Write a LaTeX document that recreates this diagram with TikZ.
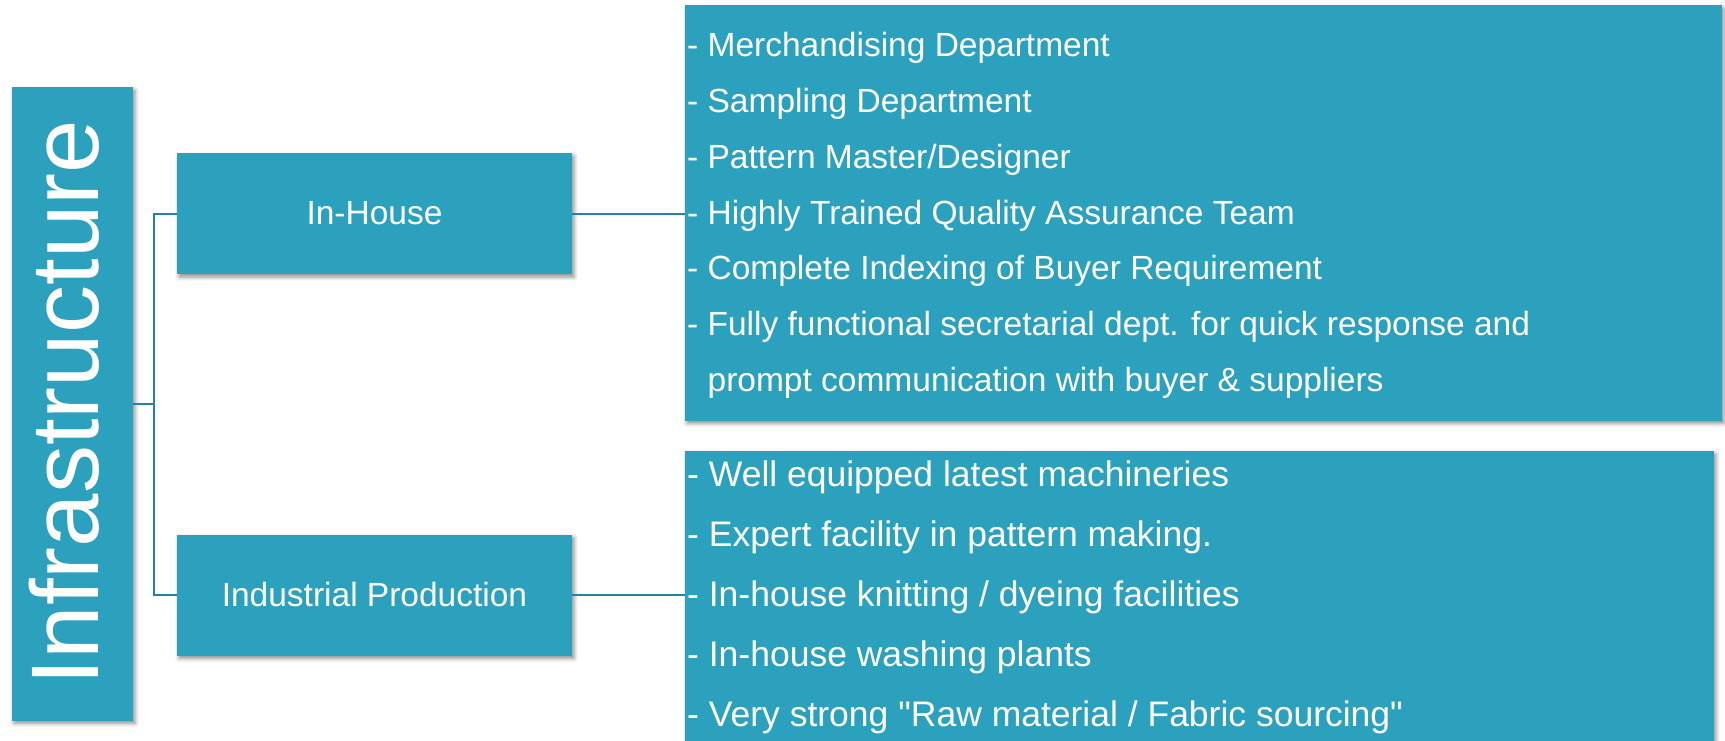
\documentclass[tikz,border=0pt]{standalone}
\usepackage{fontspec}
\setmainfont{Liberation Sans}
\newfontfamily\plainsans{Liberation Sans}
\usetikzlibrary{shadows.blur}
\definecolor{boxblue}{HTML}{2CA1BE}
\definecolor{connblue}{HTML}{2383A0}
\begin{document}
\begin{tikzpicture}[x=1pt,y=-1pt,
  box/.style={fill=boxblue, draw=none, inner sep=0pt, text=white,
    blur shadow={shadow xshift=2pt, shadow yshift=-3pt, shadow blur radius=4pt, shadow opacity=45}},
  lbl/.style={font=\plainsans\fontsize{33.5}{40}\selectfont},
  conn/.style={draw=connblue, line width=2pt},
  item/.style={anchor=base west, inner sep=0pt, text=white, font=\plainsans\fontsize{33.5}{40}\selectfont},
  bigitem/.style={item, font=\plainsans\fontsize{35.5}{42}\selectfont}]
\useasboundingbox (0,0) rectangle (1725,740);

% boxes
\node[box, minimum width=121pt, minimum height=633.5pt] (infra) at (72.5,403.75) {};
\node[rotate=90, anchor=base, text=white, inner sep=0pt, font=\plainsans\fontsize{96}{96}\selectfont] (infratext) at (98,403) {Infrastructure};

\node[box, lbl, minimum width=395pt, minimum height=121pt] (inhouse) at (374.5,213.5) {In-House};
\node[box, lbl, minimum width=395pt, minimum height=121pt] (indus) at (374.5,595) {Industrial Production};

\node[box, minimum width=1037pt, minimum height=415.5pt] (topR) at (1203.5,212.75) {};
\node[box, minimum width=1029pt, minimum height=320pt] (botR) at (1199.5,611) {};

% connectors
\coordinate (j) at (154.2,403.75);
\draw[conn] (infra.east) -- (j);
\draw[conn] (inhouse.west) -| (j) |- (indus.west);
\draw[conn] (inhouse.east) -- (inhouse.east -| topR.west);
\draw[conn] (indus.east) -- (indus.east -| botR.west);

% top list
\node[item] (t1) at (687,56.7) {- Merchandising Department};
\node[item] (t2) at (687,112.5) {- Sampling Department};
\node[item] (t3) at (687,168.3) {- Pattern Master/Designer};
\node[item] (t4) at (687,224.1) {- Highly Trained Quality Assurance Team};
\node[item] (t5) at (687,279.9) {- Complete Indexing of Buyer Requirement};
\node[item] (t6) at (687,335.7) {- Fully functional secretarial dept. for quick response and};
\node[item] (t7) at (687,391.5) {\phantom{- }prompt communication with buyer \& suppliers};

% bottom list
\node[bigitem] (b1) at (687,486) {- Well equipped latest machineries};
\node[bigitem] (b2) at (687,546) {- Expert facility in pattern making.};
\node[bigitem] (b3) at (687,606) {- In-house knitting / dyeing facilities};
\node[bigitem] (b4) at (687,666) {- In-house washing plants};
\node[bigitem] (b5) at (687,726) {- Very strong "Raw material / Fabric sourcing"};
\end{tikzpicture}
\end{document}
